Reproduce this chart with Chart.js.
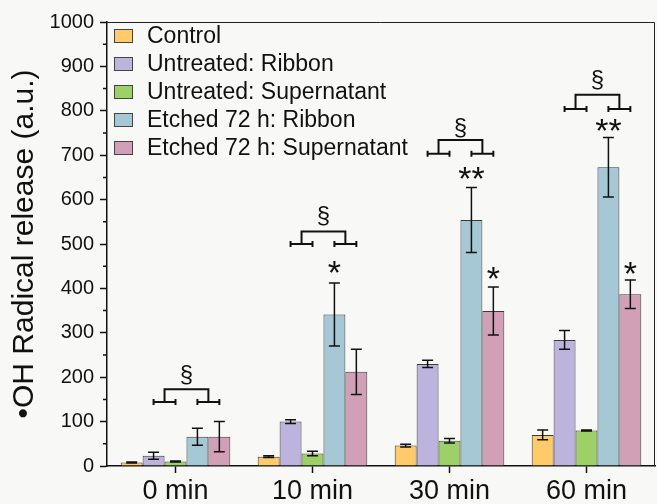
<!DOCTYPE html>
<html>
<head>
<meta charset="utf-8">
<script src="https://cdn.jsdelivr.net/npm/chart.js@4.4.0/dist/chart.umd.min.js"></script>
<style>
  html, body { margin: 0; padding: 0; background: #f8f8f7; }
  #wrap { width: 657px; height: 504px; }
</style>
</head>
<body>
<div id="wrap"><canvas id="chart" width="657" height="504"></canvas></div>
<script>
// --- data ---
const categories = ['0 min', '10 min', '30 min', '60 min'];
const seriesNames = ['Control', 'Untreated: Ribbon', 'Untreated: Supernatant', 'Etched 72 h: Ribbon', 'Etched 72 h: Supernatant'];

const control      = [8, 21, 46, 70];
const untrRibbon   = [23, 100, 230, 284];
const untrSuper    = [10, 28, 57, 80];
const etchRibbon   = [66, 341, 554, 673];
const etchSuper    = [66, 212, 349, 387];

const controlErr    = [1, 2, 3, 11];
const untrRibbonErr = [8, 4, 8, 21];
const untrSuperErr  = [1, 5, 5, 1];
const etchRibbonErr = [19, 71, 73, 67];
const etchSuperErr  = [34, 51, 54, 32];

// significance marks (y values in a.u.)
const bracketTop  = [173, 528, 734, 836];
const bracketFoot = [144, 500, 703, 804];
const sectionY    = [205, 562, 761, 869];
const starRibbon  = ['', '*', '**', '**'];
const starRibbonY = [null, 448, 661, 768];
const starSuper   = ['', '', '*', '*'];
const starSuperY  = [null, null, 434, 446];

const yTicks = [0, 100, 200, 300, 400, 500, 600, 700, 800, 900, 1000];

const colors = ['#FFCA6A', '#BDB4DE', '#9DD167', '#A5C8D4', '#D1A0B6'];
const FONT = "'Liberation Sans', Arial, sans-serif";

const values = [control, untrRibbon, untrSuper, etchRibbon, etchSuper];
const errors = [controlErr, untrRibbonErr, untrSuperErr, etchRibbonErr, etchSuperErr];

function drawGlyph(ctx, text, x, cy, font) {
    ctx.font = font;
    ctx.textAlign = 'center';
    ctx.textBaseline = 'alphabetic';
    const m = ctx.measureText(text);
    ctx.fillText(text, x, cy + (m.actualBoundingBoxAscent - m.actualBoundingBoxDescent) / 2);
}

const backgroundPlugin = {
    id: 'bg',
    beforeDraw(chart) {
        const ctx = chart.ctx;
        ctx.save();
        ctx.fillStyle = '#f8f8f7';
        ctx.fillRect(0, 0, chart.width, chart.height);
        ctx.restore();
    }
};

const errorBarsPlugin = {
    id: 'errorBars',
    afterDatasetsDraw(chart) {
        const ctx = chart.ctx;
        const y = chart.scales.y;
        ctx.save();
        ctx.strokeStyle = '#111';
        ctx.lineWidth = 1.5;
        chart.data.datasets.forEach((ds, k) => {
            chart.getDatasetMeta(k).data.forEach((bar, i) => {
                const v = ds.data[i], e = errors[k][i];
                const yTop = y.getPixelForValue(v + e);
                const yBot = y.getPixelForValue(v - e);
                const half = bar.width / 4;
                ctx.beginPath();
                ctx.moveTo(bar.x, yTop); ctx.lineTo(bar.x, yBot);
                ctx.moveTo(bar.x - half, yTop); ctx.lineTo(bar.x + half, yTop);
                ctx.moveTo(bar.x - half, yBot); ctx.lineTo(bar.x + half, yBot);
                ctx.stroke();
            });
        });
        ctx.restore();
    }
};

const significancePlugin = {
    id: 'significance',
    afterDatasetsDraw(chart) {
        const ctx = chart.ctx;
        const y = chart.scales.y;
        const bars = k => chart.getDatasetMeta(k).data;
        ctx.save();
        ctx.strokeStyle = '#111';
        ctx.fillStyle = '#111';
        ctx.lineWidth = 2;
        categories.forEach((c, i) => {
            const a = bars(1)[i].x, b = bars(2)[i].x, d = bars(3)[i].x, e = bars(4)[i].x;
            const legL = (a + b) / 2, legR = (d + e) / 2;
            const top = y.getPixelForValue(bracketTop[i]);
            const foot = y.getPixelForValue(bracketFoot[i]);
            ctx.beginPath();
            ctx.moveTo(legL, foot); ctx.lineTo(legL, top);
            ctx.lineTo(legR, top); ctx.lineTo(legR, foot);
            [[a, b], [d, e]].forEach(([p, q]) => {
                ctx.moveTo(p, foot); ctx.lineTo(q, foot);
                ctx.moveTo(p, foot - 3); ctx.lineTo(p, foot + 3);
                ctx.moveTo(q, foot - 3); ctx.lineTo(q, foot + 3);
            });
            ctx.stroke();
            drawGlyph(ctx, '§', (legL + legR) / 2, y.getPixelForValue(sectionY[i]), '24px ' + FONT);
            if (starRibbon[i]) drawGlyph(ctx, starRibbon[i], d, y.getPixelForValue(starRibbonY[i]), '34px ' + FONT);
            if (starSuper[i]) drawGlyph(ctx, starSuper[i], e, y.getPixelForValue(starSuperY[i]), '34px ' + FONT);
        });
        ctx.restore();
    }
};

const framePlugin = {
    id: 'frame',
    afterDraw(chart) {
        const ctx = chart.ctx, ca = chart.chartArea, y = chart.scales.y;
        ctx.save();
        ctx.strokeStyle = '#222';
        ctx.lineWidth = 1;
        ctx.beginPath();
        ctx.moveTo(ca.left, ca.top + 0.5); ctx.lineTo(ca.right - 0.5, ca.top + 0.5);
        ctx.lineTo(ca.right - 0.5, ca.bottom);
        ctx.stroke();
        // minor ticks halfway between labelled ticks
        ctx.strokeStyle = '#111';
        ctx.lineWidth = 1.5;
        ctx.beginPath();
        for (let j = 0; j < yTicks.length - 1; j++) {
            const py = y.getPixelForValue((yTicks[j] + yTicks[j + 1]) / 2);
            ctx.moveTo(ca.left - 4, py); ctx.lineTo(ca.left, py);
        }
        ctx.stroke();

        // legend inside the plot, top-left
        ctx.font = '23px ' + FONT;
        ctx.textAlign = 'left';
        ctx.textBaseline = 'middle';
        chart.data.datasets.forEach((ds, k) => {
            const cy = ca.top + 14 + k * 28;
            ctx.fillStyle = ds.backgroundColor;
            ctx.fillRect(ca.left + 7, cy - 7, 19, 14);
            ctx.strokeStyle = '#444';
            ctx.lineWidth = 1;
            ctx.strokeRect(ca.left + 7.5, cy - 6.5, 18, 13);
            ctx.fillStyle = '#111';
            ctx.fillText(ds.label, ca.left + 40, cy + 1);
        });
        ctx.restore();
    }
};

new Chart(document.getElementById('chart'), {
    type: 'bar',
    data: {
        labels: categories,
        datasets: seriesNames.map((name, k) => ({
            label: name,
            data: values[k],
            backgroundColor: colors[k],
            borderColor: '#3a3a3a',
            borderWidth: 1,
            categoryPercentage: 0.8,
            barPercentage: 1.0
        }))
    },
    options: {
        responsive: false,
        animation: false,
        devicePixelRatio: 1,
        layout: { padding: { top: 22, right: 2, left: 0, bottom: 0 } },
        plugins: {
            legend: { display: false },
            tooltip: { enabled: false }
        },
        scales: {
            x: {
                offset: true,
                grid: { offset: false, drawOnChartArea: false, tickLength: 7, color: '#111', tickWidth: 1.5 },
                border: { color: '#111', width: 1.5 },
                ticks: { color: '#111', font: { family: FONT, size: 27 }, padding: 2 },
                afterFit(scale) { scale.height = 38; }
            },
            y: {
                min: 0,
                max: 1000,
                afterBuildTicks(scale) { scale.ticks = yTicks.map(v => ({ value: v })); },
                grid: { drawOnChartArea: false, tickLength: 7, color: '#111', tickWidth: 1.5 },
                border: { color: '#111', width: 1.5 },
                ticks: {
                    color: '#111',
                    font: { family: FONT, size: 20 },
                    padding: 6,
                    callback: v => String(v)
                },
                title: {
                    display: true,
                    text: '•OH Radical release (a.u.)',
                    color: '#111',
                    font: { family: FONT, size: 30 },
                    padding: { top: 7, bottom: 0 }
                },
                afterFit(scale) { scale.width = 107; }
            }
        }
    },
    plugins: [backgroundPlugin, errorBarsPlugin, significancePlugin, framePlugin]
});
</script>
</body>
</html>
